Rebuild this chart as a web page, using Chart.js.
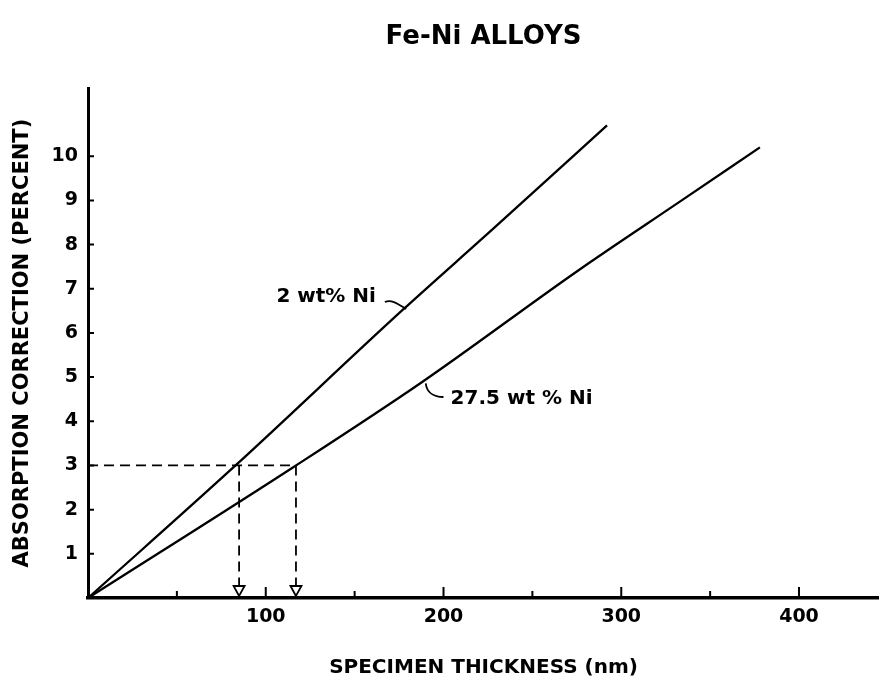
<!DOCTYPE html>
<html>
<head>
<meta charset="utf-8">
<script src="https://cdn.jsdelivr.net/npm/chart.js@4.4.1/dist/chart.umd.min.js"></script>
<style>
  html, body { margin: 0; padding: 0; background: #fff; }
  #wrap { width: 879px; height: 684px; position: relative; }
</style>
</head>
<body>
<div id="wrap"><canvas id="chart"></canvas></div>
<script>
// data -----------------------------------
const thickness2Ni = [0, 83, 177, 228, 292];
const absorb2Ni = [0, 3, 6.52, 8.36, 10.7];
const thickness275Ni = [0, 117, 188, 276, 334, 378];
const absorb275Ni = [0, 3, 4.89, 7.42, 9.0, 10.2];

const guideLevel = 3;             // horizontal dashed line (percent)
const guideThickness = [85, 117]; // where the dashed drops land (nm)

const xTickLabels = [100, 200, 300, 400];
const yTickLabels = [1, 2, 3, 4, 5, 6, 7, 8, 9, 10];

const toPoints = (xs, ys) => xs.map((v, i) => ({ x: v, y: ys[i] }));

const FONT = "'DejaVu Sans', 'Liberation Sans', sans-serif";

// annotation text + leader (data coordinates)
const notes = [
  { text: "2 wt% Ni", x: 106, y: 6.81, from: { x: 167, y: 6.70 }, to: { x: 179, y: 6.54 }, shape: "wave" },
  { text: "27.5 wt % Ni", x: 204, y: 4.52, from: { x: 190, y: 4.86 }, to: { x: 200, y: 4.55 }, shape: "hook" }
];

// ticks drawn on the inside of the axes
const innerTicks = {
  id: "innerTicks",
  afterDraw(chart) {
    const { ctx, scales: { x, y } } = chart;
    ctx.save();
    ctx.strokeStyle = "#000";
    ctx.lineWidth = 2;
    ctx.beginPath();
    x.ticks.forEach(t => {
      if (t.value <= 0 || t.value % 50 !== 0) return;
      const px = x.getPixelForValue(t.value);
      const len = t.value % 100 ? 7 : 11;
      ctx.moveTo(px, y.bottom);
      ctx.lineTo(px, y.bottom - len);
    });
    y.ticks.forEach(t => {
      if (!yTickLabels.includes(t.value)) return;
      const py = y.getPixelForValue(t.value);
      ctx.moveTo(x.left, py);
      ctx.lineTo(x.left + 6, py);
    });
    ctx.stroke();
    ctx.restore();
  }
};

// open arrow heads at the foot of the dashed drops
const arrowHeads = {
  id: "arrowHeads",
  afterDatasetsDraw(chart) {
    const { ctx } = chart;
    chart.data.datasets.forEach((ds, i) => {
      if (!ds.arrow) return;
      const pts = chart.getDatasetMeta(i).data;
      const tip = pts[pts.length - 1];
      ctx.save();
      ctx.fillStyle = "#fff";
      ctx.strokeStyle = "#000";
      ctx.lineWidth = 1.8;
      ctx.beginPath();
      ctx.moveTo(tip.x, tip.y - 2);
      ctx.lineTo(tip.x - 5.5, tip.y - 12);
      ctx.lineTo(tip.x + 5.5, tip.y - 12);
      ctx.closePath();
      ctx.fill();
      ctx.stroke();
      ctx.restore();
    });
  }
};

// curve labels with their little leaders
const curveNotes = {
  id: "curveNotes",
  afterDraw(chart) {
    const { ctx, scales: { x, y } } = chart;
    ctx.save();
    ctx.fillStyle = "#000";
    ctx.strokeStyle = "#000";
    ctx.lineWidth = 1.8;
    ctx.font = "bold 20px " + FONT;
    ctx.textAlign = "left";
    ctx.textBaseline = "middle";
    notes.forEach(n => {
      ctx.fillText(n.text, x.getPixelForValue(n.x), y.getPixelForValue(n.y));
      const x0 = x.getPixelForValue(n.from.x), y0 = y.getPixelForValue(n.from.y);
      const x1 = x.getPixelForValue(n.to.x), y1 = y.getPixelForValue(n.to.y);
      ctx.beginPath();
      ctx.moveTo(x0, y0);
      if (n.shape === "wave") {
        ctx.bezierCurveTo(x0 + 7, y0 - 3, x1 - 8, y1 - 5, x1, y1);
      } else {
        ctx.bezierCurveTo(x0 + 1, y0 + 9, x1 - 10, y1, x1, y1);
      }
      ctx.stroke();
    });
    ctx.restore();
  }
};

const solid = { borderColor: "#000", borderWidth: 2.3, pointRadius: 0, showLine: true, fill: false, cubicInterpolationMode: "monotone" };
const dashed = { borderColor: "#000", borderWidth: 1.8, borderDash: [10, 6], pointRadius: 0, showLine: true, fill: false };

new Chart(document.getElementById("chart"), {
  type: "scatter",
  data: {
    datasets: [
      { label: "2 wt% Ni", data: toPoints(thickness2Ni, absorb2Ni), ...solid },
      { label: "27.5 wt % Ni", data: toPoints(thickness275Ni, absorb275Ni), ...solid },
      { label: "guide", data: [{ x: 0, y: guideLevel }, { x: guideThickness[1], y: guideLevel }], ...dashed },
      { label: "drop1", data: [{ x: guideThickness[0], y: guideLevel }, { x: guideThickness[0], y: 0 }], ...dashed, arrow: true },
      { label: "drop2", data: [{ x: guideThickness[1], y: guideLevel }, { x: guideThickness[1], y: 0 }], ...dashed, arrow: true }
    ]
  },
  options: {
    responsive: true,
    maintainAspectRatio: false,
    animation: false,
    layout: { padding: 0 },
    plugins: {
      legend: { display: false },
      tooltip: { enabled: false },
      title: {
        display: true,
        text: "Fe-Ni ALLOYS",
        fullSize: false,
        color: "#000",
        font: { family: FONT, size: 26, weight: "bold" },
        padding: { top: 22, bottom: 35 }
      }
    },
    scales: {
      x: {
        type: "linear",
        min: 0,
        max: 445,
        afterFit(scale) {
          scale.height = 86;
          scale.paddingLeft = 0;
          scale.paddingRight = 0;
        },
        border: { display: true, color: "#000", width: 3.5 },
        grid: { display: true, drawOnChartArea: false, drawTicks: false },
        ticks: {
          stepSize: 50,
          autoSkip: false,
          maxRotation: 0,
          padding: 8,
          color: "#000",
          font: { family: FONT, size: 19, weight: "bold" },
          callback: v => (xTickLabels.includes(v) ? String(v) : "")
        },
        title: {
          display: true,
          text: "SPECIMEN THICKNESS (nm)",
          color: "#000",
          font: { family: FONT, size: 20, weight: "bold" },
          padding: { top: 0, bottom: 4 }
        }
      },
      y: {
        type: "linear",
        min: 0,
        max: 11.54,
        afterFit(scale) {
          scale.width = 88;
          scale.paddingTop = 0;
          scale.paddingBottom = 0;
        },
        border: { display: true, color: "#000", width: 3 },
        grid: { display: true, drawOnChartArea: false, drawTicks: false },
        ticks: {
          stepSize: 1,
          autoSkip: false,
          padding: 10,
          color: "#000",
          font: { family: FONT, size: 19, weight: "bold" },
          callback: v => (yTickLabels.includes(v) ? String(v) : "")
        },
        title: {
          display: true,
          text: "ABSORPTION CORRECTION (PERCENT)",
          color: "#000",
          font: { family: FONT, size: 21, weight: "bold" },
          padding: { top: 10, bottom: 0 }
        }
      }
    }
  },
  plugins: [innerTicks, arrowHeads, curveNotes]
});
</script>
</body>
</html>
